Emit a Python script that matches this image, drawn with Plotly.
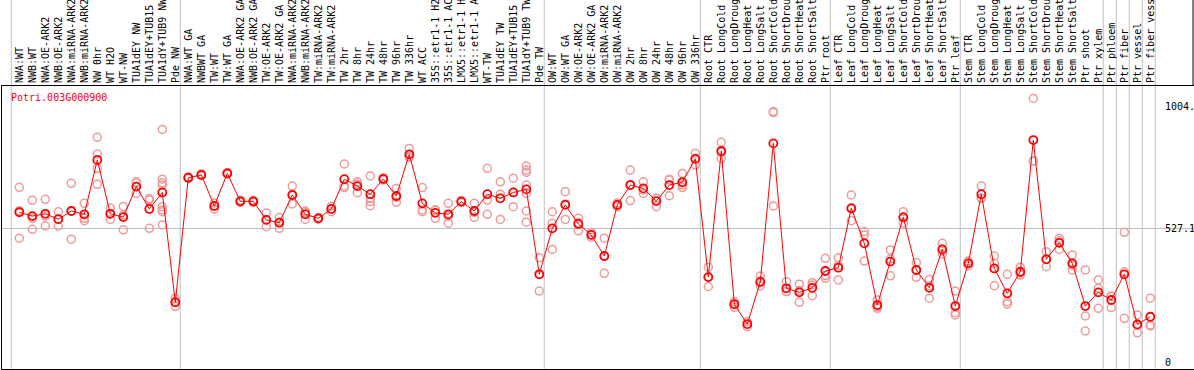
import plotly.graph_objects as go

gene = "Potri.003G000900"

labels = [
    "NWA:WT", "NWB:WT", "NWA:OE-ARK2", "NWB:OE-ARK2", "NWA:miRNA-ARK2", "NWB:miRNA-ARK2",
    "NW 0hr", "WT H2O", "WT-NW", "TUA1dEY NW", "TUA1dEY+TUB15", "TUA1dY+TUB9 NW", "Pde NW",
    "NWA:WT GA", "NWBWT GA", "TW:WT", "TW:WT GA", "NWA:OE-ARK2 GA", "NWB:OE-ARK2 GA",
    "TW:OE-ARK2", "TW:OE-ARK2 GA", "NWA:miRNA-ARK2", "NWB:miRNA-ARK2", "TW:miRNA-ARK2",
    "TW:miRNA-ARK2", "TW 2hr", "TW 8hr", "TW 24hr", "TW 48hr", "TW 96hr", "TW 336hr",
    "WT ACC", "35S::etr1-1 H2", "35S::etr1-1 AC", "LMX5::etr1-1 H", "LMX5::etr1-1 A",
    "WT-TW", "TUA1dEY TW", "TUA1dEY+TUB15", "TUA1dY+TUB9 TW", "Pde TW",
    "OW:WT", "OW:WT GA", "OW:OE-ARK2", "OW:OE-ARK2 GA", "OW:miRNA-ARK2", "OW:miRNA-ARK2",
    "OW 2hr", "OW 8hr", "OW 24hr", "OW 48hr", "OW 96hr", "OW 336hr",
    "Root CTR", "Root LongCold", "Root LongDroug", "Root LongHeat", "Root LongSalt",
    "Root ShortCold", "Root ShortDrou", "Root ShortHeat", "Root ShortSalt", "Ptr root",
    "Leaf CTR", "Leaf LongCold", "Leaf LongDroug", "Leaf LongHeat", "Leaf LongSalt",
    "Leaf ShortCold", "Leaf ShortDrou", "Leaf ShortHeat", "Leaf ShortSalt", "Ptr leaf",
    "Stem CTR", "Stem LongCold", "Stem LongDroug", "Stem LongHeat", "Stem LongSalt",
    "Stem ShortCold", "Stem ShortDrou", "Stem ShortHeat", "Stem ShortSalt",
    "Ptr shoot", "Ptr xylem", "Ptr phloem", "Ptr fiber", "Ptr vessel", "Ptr fiber vess",
]

means = [
    589, 574, 583, 562, 594, 581, 795, 583, 570, 690, 602, 667, 235,
    725, 736, 614, 742, 632, 632, 559, 548, 657, 581, 565, 602, 719, 692, 660, 720, 653,
    817, 624, 587, 581, 631, 594, 660, 644, 667, 679, 345,
    526, 618, 543, 500, 417, 618, 696, 683, 633, 696, 707, 799,
    334, 830, 227, 149, 316, 860, 290, 274, 292, 358,
    371, 605, 467, 224, 395, 569, 362, 292, 443, 220,
    388, 660, 368, 270, 355, 873, 404, 469, 388, 220, 274, 244, 345, 148, 178,
]

replicates = [
    [687, 595, 487], [636, 565, 522], [640, 574, 535], [591, 562, 534], [703, 594, 483],
    [624, 565, 556], [884, 818, 762, 699], [606, 583, 561], [612, 578, 520], [709, 705, 663],
    [637, 643, 526], [915, 719, 705, 696, 611, 598, 591, 539], [251, 235, 218],
    [728, 725, 722], [740, 736, 733], [625, 614, 602], [745, 742, 739], [636, 632, 628],
    [636, 632, 628], [586, 559, 532], [568, 550, 526], [692, 657, 622], [594, 588, 561],
    [568, 565, 562], [613, 602, 591], [779, 692, 686], [709, 700, 666], [732, 644, 631, 615],
    [724, 720, 716], [683, 648, 628], [840, 808, 804], [686, 598, 591], [598, 598, 565],
    [624, 573, 546], [635, 631, 627], [624, 589, 569], [762, 637, 581], [709, 660, 561],
    [723, 667, 611], [771, 755, 746, 696, 663, 594, 550], [410, 345, 279],
    [591, 546, 443], [670, 622, 561], [565, 548, 516], [509, 500, 491], [487, 415, 349],
    [625, 618, 611], [755, 698, 635], [709, 677, 663], [644, 644, 611], [716, 718, 654],
    [742, 696, 686], [821, 801, 775],
    [373, 334, 296], [864, 825, 801], [237, 229, 215], [159, 149, 139], [338, 311, 299],
    [985, 981, 614], [316, 277, 277], [306, 281, 235], [312, 303, 261], [408, 340, 329],
    [410, 380, 323], [657, 602, 556], [513, 500, 397], [244, 217, 211], [441, 405, 339],
    [591, 570, 546], [391, 362, 333], [325, 300, 251], [467, 437, 425], [279, 194, 185],
    [397, 388, 379], [692, 644, 644], [417, 388, 300], [345, 237, 228], [373, 350, 342],
    [1037, 791, 791], [434, 404, 375], [487, 477, 443], [421, 381, 362], [362, 181, 122],
    [323, 290, 211], [260, 258, 214], [510, 355, 172], [185, 144, 115], [251, 146, 142],
]

# index of last sample in each group (separator drawn just after it)
group_ends = [-1, 12, 40, 52, 62, 72, 83, 84, 85, 86, 87]

y_labels = ["1004.", "527.1", "0"]
y_label_vals = [1004.0, 527.1, 0.0]

MONO = "DejaVu Sans Mono"

xs = list(range(len(labels)))
rep_x, rep_y = [], []
for i, reps in enumerate(replicates):
    for v in reps:
        rep_x.append(i)
        rep_y.append(v)

fig = go.Figure()
fig.add_trace(go.Scatter(
    x=rep_x, y=rep_y, mode="markers",
    marker=dict(symbol="circle-open", size=8, color="#f09a9a", line=dict(width=1.5, color="#f09a9a")),
    hoverinfo="y", showlegend=False,
))
fig.add_trace(go.Scatter(
    x=xs, y=means, mode="lines+markers",
    line=dict(color="#ff0000", width=1),
    marker=dict(symbol="circle-open", size=8, color="#ff0000", line=dict(width=1.8, color="#ff0000")),
    showlegend=False,
))

shapes = []
for e in group_ends:
    shapes.append(dict(type="line", xref="x", yref="paper", x0=e + 0.38, x1=e + 0.38,
                       y0=0, y1=1.31, line=dict(color="#c0c0c0", width=1), layer="below"))
# right border of the label strip
shapes.append(dict(type="line", xref="paper", yref="paper", x0=0.9992, x1=0.9992,
                   y0=1.0, y1=1.31, line=dict(color="black", width=1)))

annotations = [dict(text=gene, xref="paper", yref="paper", x=0.006, y=0.96,
                    xanchor="left", yanchor="middle", showarrow=False,
                    font=dict(family=MONO, size=10, color="#ff0000"))]
for t, v in zip(y_labels, y_label_vals):
    annotations.append(dict(text=t, xref="paper", yref="y", x=0.974, y=v,
                            xanchor="left", yanchor="middle", showarrow=False,
                            font=dict(family=MONO, size=10, color="black")))

fig.update_layout(
    width=1194, height=370,
    margin=dict(l=2, r=0, t=86, b=1),
    paper_bgcolor="white", plot_bgcolor="white",
    shapes=shapes, annotations=annotations,
    xaxis=dict(
        range=[-1.331, 90.361], side="top", tickmode="array", tickvals=xs, ticktext=labels,
        tickangle=-90, tickfont=dict(family=MONO, size=10, color="black"),
        ticks="", showgrid=False, zeroline=False, automargin=False,
        showline=True, mirror=True, linecolor="black", linewidth=1,
    ),
    yaxis=dict(
        range=[-27.5, 1085.7], tickmode="array", tickvals=[527.1], showticklabels=False,
        showgrid=True, gridcolor="#c0c0c0", gridwidth=1, zeroline=False, ticks="",
        showline=True, linecolor="black", linewidth=1, automargin=False,
    ),
)

fig.write_html("out.html", config={"displayModeBar": False},
               post_script="document.body.style.margin='0';")
